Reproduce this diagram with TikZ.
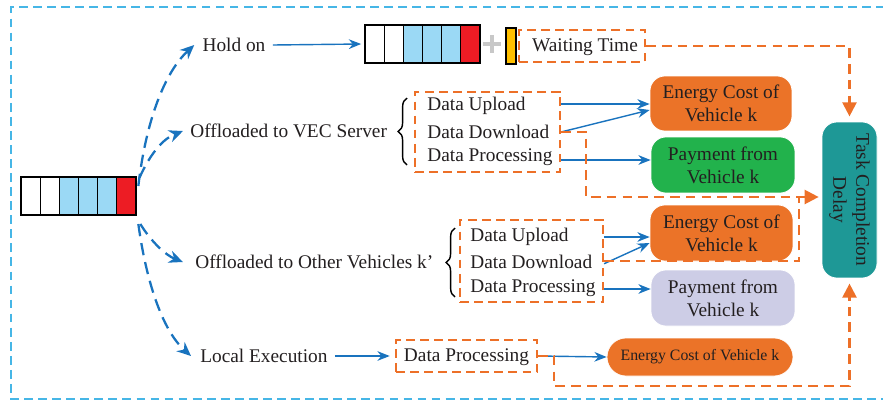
\documentclass[tikz,border=0pt]{standalone}
\usepackage{fontspec}
\setmainfont{Liberation Serif}
\usetikzlibrary{arrows.meta,decorations.pathreplacing}
\definecolor{frameblue}{RGB}{70,182,230}
\definecolor{arrblue}{RGB}{25,115,190}
\definecolor{dorange}{RGB}{237,112,40}
\definecolor{boxorange}{RGB}{235,115,40}
\definecolor{boxgreen}{RGB}{34,178,76}
\definecolor{boxteal}{RGB}{30,152,150}
\definecolor{boxlav}{RGB}{205,205,230}
\definecolor{qblue}{RGB}{155,217,245}
\definecolor{qred}{RGB}{237,28,36}
\definecolor{qyellow}{RGB}{255,192,0}
\definecolor{txt}{RGB}{35,31,32}
\definecolor{plusgray}{RGB}{200,200,200}
\tikzset{
  lbl/.style={inner sep=0pt, anchor=west, text=txt},
  ctext/.style={inner sep=0pt, text=txt},
  rbox/.style={rounded corners=0.3cm, draw=white, line width=0.4pt, align=center, inner sep=0pt, text=txt},
  dbox/.style={draw=dorange, line width=1.2pt, dash pattern=on 5pt off 3pt, inner sep=0pt},
  odash/.style={draw=dorange, line width=1.3pt, dash pattern=on 5.5pt off 3.5pt},
  oarrow/.style={odash, -{Triangle[length=8pt,width=8pt,fill=dorange]}},
  bdash/.style={draw=arrblue, line width=1.3pt, dash pattern=on 7pt off 4pt, -{Stealth[length=8pt,width=7pt,fill=arrblue]}},
  barrow/.style={draw=arrblue, line width=0.8pt, -{Stealth[length=7pt,width=5.5pt]}},
  qcell/.style={draw=black, line width=0.7pt},
  bracestyle/.style={draw=black, line width=0.8pt, decorate, decoration={brace, amplitude=5pt}},
}
\begin{document}
\begin{tikzpicture}[x=0.02cm, y=-0.02cm, font=\fontsize{11}{13}\selectfont]
\useasboundingbox (0,0) rectangle (883,403);
% outer frame
\draw[frameblue, line width=0.9pt, dash pattern=on 5pt off 3pt] (885,7) -- (11,7) -- (11,399) -- (885,399);

% main queue
\node[inner sep=0pt, minimum width=2.3cm, minimum height=0.76cm] (mq) at (78.5,196) {};
\foreach \i/\c in {0/white,1/white,2/qblue,3/qblue,4/qblue,5/qred}
  \draw[qcell, fill=\c] (21+\i*19.1667,177) rectangle ++(19.1667,38);

% hold queue
\node[inner sep=0pt, minimum width=2.3cm, minimum height=0.76cm] (hq) at (422.5,44) {};
\foreach \i/\c in {0/white,1/white,2/qblue,3/qblue,4/qblue,5/qred}
  \draw[qcell, fill=\c] (365+\i*19.1667,25) rectangle ++(19.1667,38);
% plus and yellow bar
\draw[plusgray, line width=2.2pt] (483,44) -- (501,44) (492,35) -- (492,53);
\node[draw=black, line width=0.7pt, fill=qyellow, inner sep=0pt, minimum width=0.2cm, minimum height=0.72cm] (ybar) at (511,46) {};
\node[dbox, minimum width=2.52cm, minimum height=0.64cm] (waitbox) at (582,46) {};
\node[ctext] (wait) at (585,47) {Waiting Time};

% labels of branches
\node[ctext] (holdon) at (234,45) {Hold on};
\node[lbl] (vec) at (190,131) {Offloaded to VEC Server};
\node[lbl] (other) at (195,262) {Offloaded to Other Vehicles k’};
\node[lbl] (local) at (200,356) {Local Execution};

% dashed curved arrows from the queue
\draw[bdash] ([shift={(2,-10)}]mq.east) .. controls (146,120) and (165,72) .. ([shift={(-8,0)}]holdon.west);
\draw[bdash] ([shift={(3,-18)}]mq.east) .. controls (152,150) and (165,138) .. ([shift={(-7,0)}]vec.west);
\draw[bdash] ([shift={(4,28)}]mq.east) .. controls (150,240) and (165,255) .. ([shift={(-12,0)}]other.west);
\draw[bdash] ([shift={(2,28)}]mq.east) .. controls (146,280) and (162,330) .. ([shift={(-9,0)}]local.west);

\draw[barrow] ([xshift=4pt]holdon.east) -- ([xshift=-2pt]hq.west);

% VEC server group
\draw[bracestyle] (407,165) -- (407,98);
\node[dbox, minimum width=2.9cm, minimum height=1.6cm] (vecbox) at (487.5,132) {};
\node[lbl] (up1) at (427,106) {Data Upload};
\node[lbl] (dn1) at (427,132) {Data Download};
\node[lbl] (pr1) at (427,157) {Data Processing};
\node[rbox, fill=boxorange, minimum width=2.84cm, minimum height=1.1cm] (e1) at (721,103.5) {Energy Cost of\\Vehicle k};
\node[rbox, fill=boxgreen, minimum width=2.88cm, minimum height=1.12cm] (p1) at (723,165) {Payment from\\Vehicle k};
\draw[barrow] (vecbox.east |- 0,104) -- (e1.west |- 0,104);
\draw[barrow] (vecbox.east |- dn1) -- ([yshift=-0.13cm]e1.west);
\draw[barrow] (vecbox.east |- 0,160) -- (p1.west |- 0,160);

% other vehicles group
\draw[bracestyle] (455,297) -- (455,228);
\node[dbox, minimum width=2.86cm, minimum height=1.64cm] (otherbox) at (531.5,261) {};
\node[lbl] (up2) at (470,237) {Data Upload};
\node[lbl] (dn2) at (470,262) {Data Download};
\node[lbl] (pr2) at (470,288) {Data Processing};
\node[rbox, fill=boxorange, minimum width=2.86cm, minimum height=1.12cm] (e2) at (721.5,233) {Energy Cost of\\Vehicle k};
\node[rbox, fill=boxlav, minimum width=2.88cm, minimum height=1.12cm] (p2) at (723,298) {Payment from\\Vehicle k};
\draw[barrow] (otherbox.east |- up2) -- (e2.west |- up2);
\draw[barrow] ([yshift=-1pt]otherbox.east |- dn2) -- ([yshift=-0.2cm]e2.west);
\draw[barrow] (otherbox.east |- 0,289) -- (p2.west |- 0,289);

% local execution group
\node[dbox, minimum width=2.82cm, minimum height=0.64cm] (localbox) at (466.5,356) {};
\node[ctext] (lpr) at (466.5,357) {Data Processing};
\node[rbox, rounded corners=0.38cm, fill=boxorange, minimum width=3.72cm, minimum height=0.76cm, font=\fontsize{9}{11}\selectfont] (e3) at (700,357) {Energy Cost of Vehicle k};
\draw[barrow] ([xshift=4pt]local.east) -- ([xshift=-3pt]localbox.west);
\draw[barrow] (localbox.east) -- (e3.west);

% task completion delay
\node[rbox, fill=boxteal, minimum width=1.1cm, minimum height=3.12cm] (task) at (849.5,200) {};
\node[ctext, rotate=-90, align=center] (tasklbl) at (task.center) {Task Completion\\Delay};

% orange dashed connectors to the task node
\draw[oarrow] (waitbox.east) -| ([yshift=3pt]task.north);
\draw[oarrow] (vecbox.east |- dn1) -- ++(25,0) |- ([shift={(-3,-3)}]task.west);
\draw[odash] (otherbox.east) -- ++(195,0) -- ++(0,-64);
\draw[oarrow] (localbox.east) -- ++(16,0) -- ++(0,30) -| ([yshift=-3pt]task.south);
\end{tikzpicture}
\end{document}
